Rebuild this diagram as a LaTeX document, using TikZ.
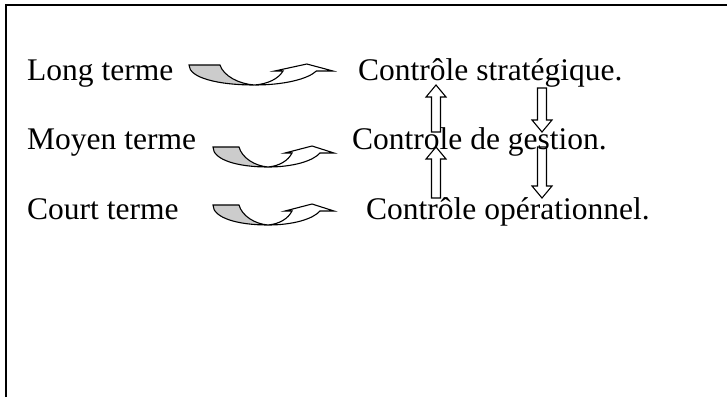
\documentclass[tikz,border=0pt]{standalone}
\usepackage{fontspec}
\setmainfont{Liberation Serif}
\definecolor{shade}{RGB}{204,204,204}
\tikzset{
  label/.style={anchor=base west, inner sep=0pt, font=\fontsize{31.5}{36}\selectfont},
  outline/.style={draw=black, line width=1.1pt, line join=miter},
  curvedarrow/.pic={
    % front of the band with its head
    \path[outline, fill=white]
      (55,20) .. controls (80,20) and (100,14) .. (107,6)
      -- (121,6) -- (99,-1) -- (72,6) -- (79,6)
      .. controls (75,14) and (66,19) .. (55,20) -- cycle;
    % shaded underside of the band
    \path[outline, fill=shade]
      (0,0) -- (26,0) .. controls (29,11) and (42,19) .. (55,20)
      .. controls (25,20) and (0,13) .. (0,0) -- cycle;
  }
}
% block arrow: x, tail y, head-base y, tip y
\newcommand{\blockarrow}[4]{%
  \draw[outline]
    ({#1-4.5},#2) -- ({#1+4.5},#2) -- ({#1+4.5},#3) -- ({#1+10},#3)
    -- (#1,#4) -- ({#1-10},#3) -- ({#1-4.5},#3) -- cycle;}
\begin{document}
\begin{tikzpicture}[x=1pt,y=-1pt]
  \useasboundingbox (0,0) rectangle (727,397);
  % frame
  \draw[line width=2pt] (6,397) -- (6,5) -- (727,5);

  % horizon labels
  \node[label] (long)  at (27,80)  {Long terme};
  \node[label] (moyen) at (27,149) {Moyen terme};
  \node[label] (court) at (27,219) {Court terme};

  % kinds of control
  \node[label] (strat) at (358,80)  {Contrôle stratégique.};
  \node[label] (gest)  at (352,149) {Controle de gestion.};
  \node[label] (oper)  at (366,219) {Contrôle opérationnel.};

  % curved arrows between horizon and control
  \pic[xscale=1.19] at (189,65) {curvedarrow};
  \pic at (213,147) {curvedarrow};
  \pic at (213,205) {curvedarrow};

  % upward arrows
  \blockarrow{436}{132}{97}{85}
  \blockarrow{436}{198}{159}{147}
  % downward arrows
  \blockarrow{542}{88}{120}{132}
  \blockarrow{542}{147}{186}{198}
\end{tikzpicture}
\end{document}
